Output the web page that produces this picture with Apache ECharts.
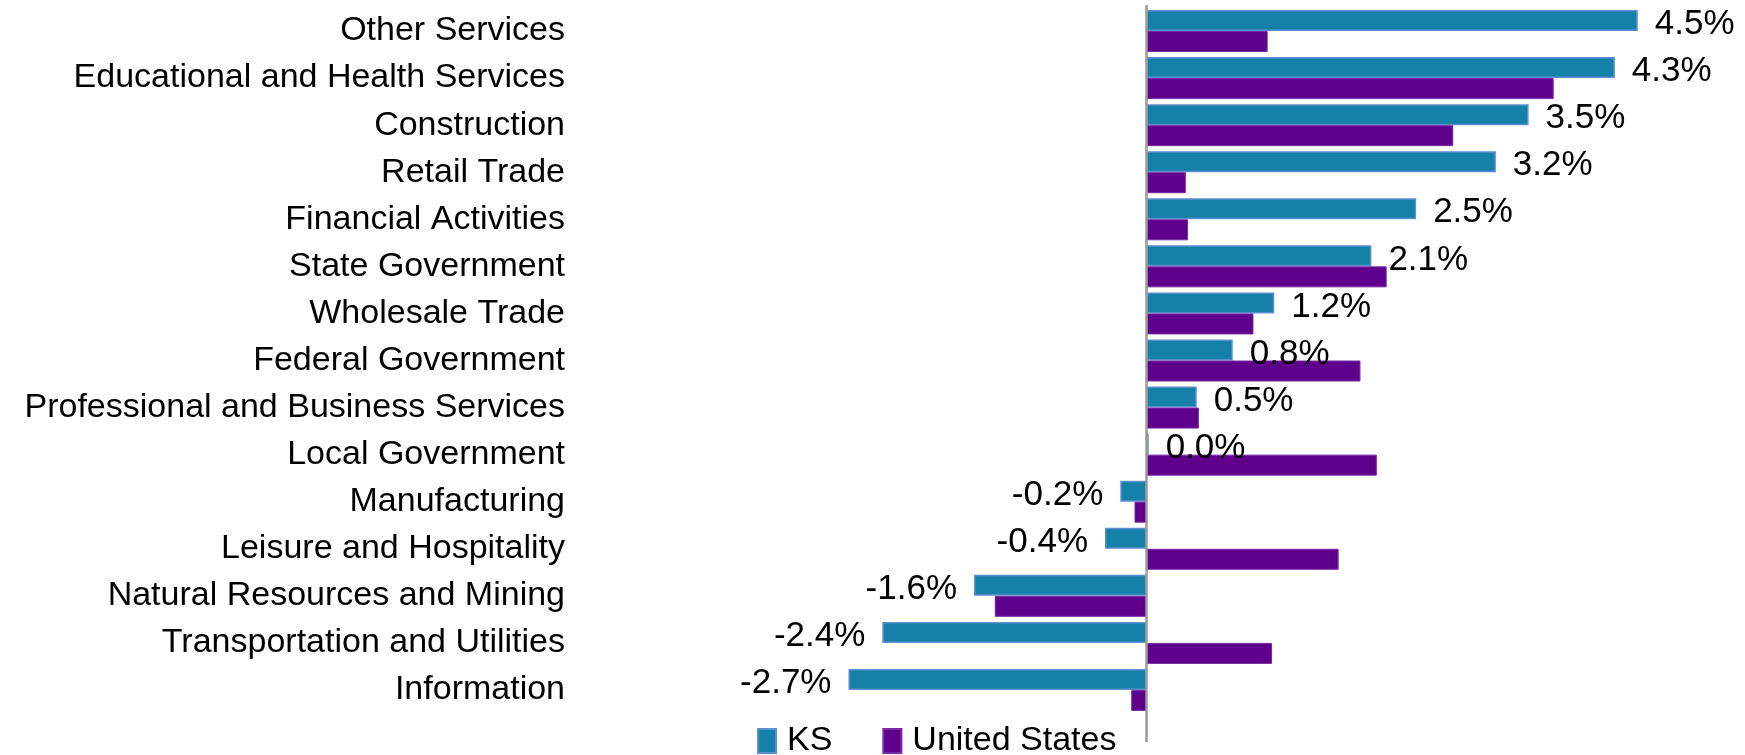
<!DOCTYPE html>
<html>
<head>
<meta charset="utf-8">
<script src="https://cdn.jsdelivr.net/npm/echarts@6/dist/echarts.min.js"></script>
<style>
  html, body { margin: 0; padding: 0; background: #fff; }
  #chart { width: 1745px; height: 755px; }
</style>
</head>
<body>
<div id="chart"></div>
<script>
const categories = [
  'Other Services',
  'Educational and Health Services',
  'Construction',
  'Retail Trade',
  'Financial Activities',
  'State Government',
  'Wholesale Trade',
  'Federal Government',
  'Professional and Business Services',
  'Local Government',
  'Manufacturing',
  'Leisure and Hospitality',
  'Natural Resources and Mining',
  'Transportation and Utilities',
  'Information',
]
const ksValues = [4.5, 4.29, 3.5, 3.2, 2.47, 2.06, 1.17, 0.79, 0.46, 0.02, -0.24, -0.38, -1.58, -2.42, -2.73]
const usValues = [1.11, 3.73, 2.81, 0.36, 0.38, 2.2, 0.98, 1.96, 0.48, 2.11, -0.11, 1.76, -1.39, 1.15, -0.14]
const seriesNames = ['KS', 'United States']

const font = '"Liberation Sans", Arial, sans-serif'

const chartDom = document.getElementById('chart')
const myChart = echarts.init(chartDom)

const option = {
  animation: false,
  textStyle: { fontFamily: font },
  grid: {
    left: 819,
    right: 9,
    top: 7.5,
    bottom: 41.5,
    containLabel: false,
  },
  legend: {
    data: seriesNames,
    left: 757,
    top: 724,
    padding: 0,
    icon: 'rect',
    itemWidth: 18,
    itemHeight: 24,
    itemGap: 50,
    textStyle: {
      fontSize: 34,
      color: '#000',
      fontFamily: font,
      padding: [0, 0, 0, 6],
    },
  },
  xAxis: {
    type: 'value',
    min: -3,
    max: 5.4,
    show: false,
  },
  yAxis: {
    type: 'category',
    data: categories,
    inverse: true,
    axisLine: { show: false, onZero: false },
    axisTick: { show: false },
    splitLine: { show: false },
    axisLabel: {
      margin: 254,
      fontSize: 34,
      color: '#000',
      fontFamily: font,
    },
  },
  series: [
    {
      name: seriesNames[0],
      type: 'bar',
      barWidth: 21,
      barGap: '0%',
      itemStyle: {
        color: '#1580a8',
        borderColor: '#5a8fd0',
        borderWidth: 1.5,
      },
      data: ksValues.map(v => ({
        value: v,
        label: { position: v < 0 ? 'left' : 'right' },
      })),
      label: {
        show: true,
        distance: 17,
        fontSize: 35,
        color: '#000',
        fontFamily: font,
        offset: [0, 4],
        formatter: p => p.value.toFixed(1) + '%',
      },
    },
    {
      name: seriesNames[1],
      type: 'bar',
      barWidth: 21,
      barGap: '0%',
      itemStyle: {
        color: '#5f008c',
        borderColor: '#7a2aa6',
        borderWidth: 1,
      },
      data: usValues,
    },
  ],
}

myChart.setOption(option)

// zero line runs a bit past the last category, down beside the legend
const x0 = myChart.convertToPixel({ xAxisIndex: 0 }, 0)
myChart.setOption({
  graphic: [
    {
      type: 'line',
      shape: { x1: x0, y1: 5, x2: x0, y2: 742 },
      style: { stroke: '#9a9a9a', lineWidth: 2.5 },
      z: 100,
      silent: true,
    },
  ],
})
</script>
</body>
</html>
